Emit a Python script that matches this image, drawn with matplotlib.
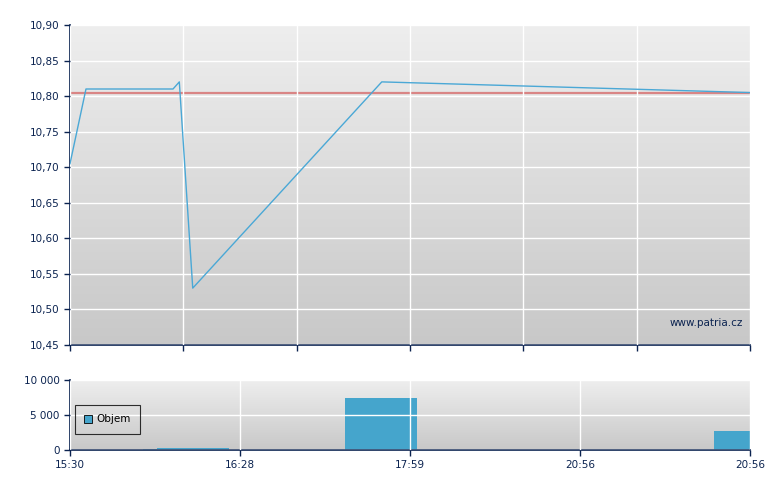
import numpy as np
import matplotlib.pyplot as plt

# x positions are in "slot" units: the time axis is split into 4 equal slots
price_x = [0.0, 0.094, 0.606, 0.643, 0.722, 1.834, 4.0]
price_y = [10.705, 10.81, 10.81, 10.82, 10.53, 10.82, 10.805]
ref_price = 10.805

vol_left = [0.428, 0.514, 1.618, 3.788]
vol_width = [0.086, 0.421, 0.423, 0.212]
vol_value = [150, 330, 7430, 2710]

time_ticks = [0, 1, 2, 3, 4]
time_labels = ["15:30", "16:28", "17:59", "20:56", "20:56"]
price_ticks = [10.45, 10.50, 10.55, 10.60, 10.65, 10.70, 10.75, 10.80, 10.85, 10.90]
vol_ticks = [0, 5000, 10000]

navy = "#0b2350"
line_blue = "#4aa8d6"
bar_blue = "#45a5cc"
plt.rcParams['font.family'] = ['DejaVu Sans']
plt.rcParams['font.size'] = 7.5

fig = plt.figure(figsize=(7.8, 4.9), dpi=100)
ax1 = fig.add_axes([70/780, 1 - 345/490, 680/780, 320/490])
ax2 = fig.add_axes([70/780, 1 - 450/490, 680/780, 70/490])

grad = np.linspace(0, 1, 256).reshape(-1, 1)
cmap = plt.matplotlib.colors.LinearSegmentedColormap.from_list(
    "g", ["#c8c8c8", "#eeeeee"])


def style(ax, ylim):
    ax.imshow(grad, extent=[0, 4, ylim[0], ylim[1]], aspect='auto',
              cmap=cmap, origin='lower', zorder=0)
    ax.set_xlim(0, 4)
    ax.set_ylim(*ylim)
    for s in ['top', 'right']:
        ax.spines[s].set_visible(False)
    for s in ['left', 'bottom']:
        ax.spines[s].set_color(navy)
        ax.spines[s].set_linewidth(1.2)
    ax.tick_params(colors=navy, labelcolor=navy, length=4, width=1)
    ax.grid(True, color='white', linewidth=1.0, zorder=1)
    ax.set_axisbelow(False)


style(ax1, (10.45, 10.90))
ax1.set_yticks(price_ticks)
ax1.set_yticklabels([("%.2f" % v).replace('.', ',') for v in price_ticks])
ax1.set_xticks(np.linspace(0, 4, 7))
ax1.set_xticklabels([])
ax1.axhline(ref_price, color="#d98585", linewidth=1.6, zorder=2)
ax1.plot(price_x, price_y, color=line_blue, linewidth=1, zorder=3)
ax1.text(0.99, 0.07, "www.patria.cz", transform=ax1.transAxes, ha='right',
         va='center', color=navy, fontsize=7.5)

style(ax2, (0, 10000))
ax2.bar(vol_left, vol_value, width=vol_width, align='edge', color=bar_blue,
        zorder=2, label="Objem")
ax2.set_yticks(vol_ticks)
ax2.set_yticklabels([format(v, ",").replace(",", " ") for v in vol_ticks])
ax2.set_xticks(time_ticks)
ax2.set_xticklabels(time_labels)
leg = ax2.legend(loc='upper left', bbox_to_anchor=(0.007, 0.645), frameon=True,
                 fancybox=False, handlelength=0.8, handleheight=0.8,
                 borderpad=0.9, borderaxespad=0, handletextpad=0.4,
                 fontsize=7.5)
leg.get_frame().set_edgecolor('black')
leg.get_frame().set_facecolor('none')
leg.get_frame().set_linewidth(0.8)
for t in leg.get_texts():
    t.set_color('black')
for h in leg.legend_handles:
    h.set_edgecolor('black')
    h.set_linewidth(0.6)

fig.savefig("out.png", dpi=100)
